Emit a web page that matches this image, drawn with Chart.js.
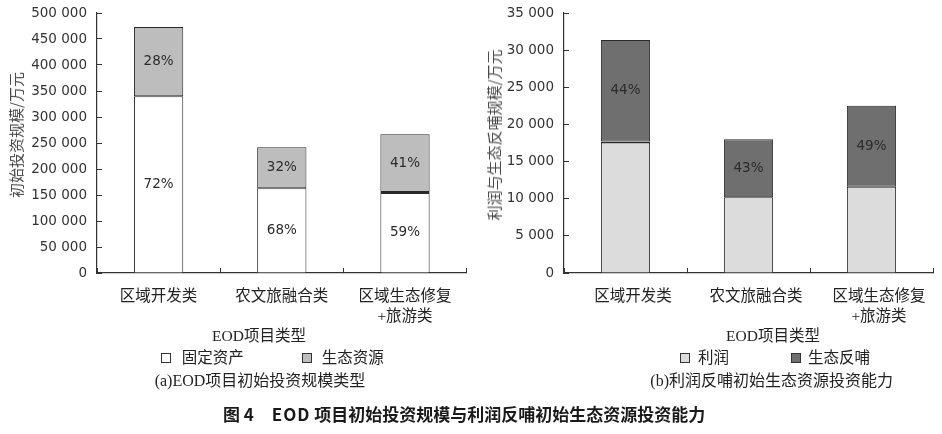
<!DOCTYPE html>
<html><head><meta charset="utf-8">
<script src="https://cdn.jsdelivr.net/npm/chart.js@4.4.1/dist/chart.umd.min.js"></script>
<style>
html,body{margin:0;padding:0;background:#fff;width:942px;height:434px;overflow:hidden;}
#wrap{position:relative;width:942px;height:434px;}
canvas{position:absolute;top:0;}
.t{position:absolute;white-space:nowrap;font-family:"Liberation Serif","Noto Sans CJK SC",serif;font-size:15.5px;color:#222;line-height:20px;}
.c{transform:translateX(-50%);}
.s{font-size:16px;}
.yt{position:absolute;white-space:nowrap;font-family:"Noto Sans CJK SC",sans-serif;font-size:15px;color:#4a4a4a;line-height:18px;transform:translate(-50%,-50%) rotate(-90deg);}
.box{position:absolute;box-sizing:border-box;width:10px;height:10px;border:1px solid #333;}
.cap{position:absolute;white-space:nowrap;font-family:"Noto Sans CJK SC",sans-serif;font-weight:bold;font-size:17px;color:#1a1a1a;line-height:20px;}
</style></head>
<body>
<div id="wrap">
  <canvas id="left" width="471" height="330" style="left:0px"></canvas>
  <canvas id="right" width="471" height="330" style="left:471px"></canvas>

  <div class="yt" style="left:15.5px;top:135px">初始投资规模/万元</div>
  <div class="yt" style="left:494px;top:135px">利润与生态反哺规模/万元</div>

  <div class="t c" style="left:259px;top:325.5px">EOD项目类型</div>
  <div class="box" style="left:161px;top:353px;background:#ffffff"></div>
  <div class="t" style="left:181.7px;top:348px">固定资产</div>
  <div class="box" style="left:302px;top:353px;background:#bdbdbd"></div>
  <div class="t" style="left:321.7px;top:348px">生态资源</div>
  <div class="t c s" style="left:260px;top:371px">(a)EOD项目初始投资规模类型</div>

  <div class="t c" style="left:773px;top:326px">EOD项目类型</div>
  <div class="box" style="left:680px;top:353px;background:#dcdcdc"></div>
  <div class="t" style="left:698px;top:348px">利润</div>
  <div class="box" style="left:790.7px;top:353px;background:#6f6f6f"></div>
  <div class="t" style="left:808px;top:348px">生态反哺</div>
  <div class="t c s" style="left:771.7px;top:371px">(b)利润反哺初始生态资源投资能力</div>

  <div class="cap" style="left:223px;top:404px">图 4</div>
  <div class="cap" style="left:271.7px;top:404px"><span style="letter-spacing:1px">EOD</span> 项目初始投资规模与利润反哺初始生态资源投资能力</div>
</div>
<script>
// ---- data ----
const categories = [['区域开发类'], ['农文旅融合类'], ['区域生态修复', '+旅游类']];
const fixedAssets = [340000, 163000, 156000];
const ecoResources = [133000, 79000, 111000];
const fixedPct = ['72%', '68%', '59%'];
const ecoPct = ['28%', '32%', '41%'];
const profit = [17700, 10200, 11600];
const ecoFeedback = [13650, 7800, 10900];
const feedbackPct = ['44%', '43%', '49%'];
const leftMax = 500000, leftStep = 50000;
const rightMax = 35000, rightStep = 5000;

function fmt(v) {
  return String(v).replace(/\B(?=(\d{3})+(?!\d))/g, ' ');
}

const pctPlugin = {
  id: 'pct',
  afterDatasetsDraw(chart) {
    const ctx = chart.ctx;
    ctx.save();
    ctx.font = '13.5px "DejaVu Sans"';
    ctx.fillStyle = '#2b2b2b';
    ctx.textAlign = 'center';
    ctx.textBaseline = 'middle';
    chart.data.datasets.forEach((ds, i) => {
      if (!ds.pctLabels) return;
      chart.getDatasetMeta(i).data.forEach((el, j) => {
        const lab = ds.pctLabels[j];
        if (!lab) return;
        ctx.fillText(lab, el.x, (el.y + el.base) / 2);
      });
    });
    ctx.restore();
  }
};

function makeChart(id, datasets, axisMax, step, yWidth, padRight, labelOffset) {
  return new Chart(document.getElementById(id), {
    type: 'bar',
    data: { labels: categories, datasets: datasets },
    options: {
      responsive: false, animation: false, devicePixelRatio: 1,
      layout: { padding: { top: 13, right: padRight, left: 0, bottom: 0 } },
      plugins: { legend: { display: false }, tooltip: { enabled: false } },
      scales: {
        x: {
          stacked: true, offset: true,
          grid: { offset: true, drawOnChartArea: false, drawTicks: true, tickLength: -5, color: '#333', lineWidth: 1 },
          border: { display: true, color: '#333', width: 1.2 },
          ticks: {
            padding: 19, labelOffset: labelOffset, color: '#222', maxRotation: 0, autoSkip: false,
            font: { family: '"Liberation Serif","Noto Sans CJK SC"', size: 15.5, lineHeight: 1.29 }
          },
          afterFit(s) { s.height = 330 - 273; }
        },
        y: {
          stacked: true, min: 0, max: axisMax,
          grid: { drawOnChartArea: false, drawTicks: true, tickLength: -5, color: '#333', lineWidth: 1 },
          border: { display: true, color: '#333', width: 1.2 },
          ticks: {
            stepSize: step, padding: 15, color: '#333',
            font: { family: '"DejaVu Sans"', size: 13.5 },
            callback: (v) => fmt(v)
          },
          afterFit(s) { s.width = yWidth; s.paddingTop = 0; s.paddingBottom = 0; }
        }
      }
    },
    plugins: [pctPlugin]
  });
}

const thick = { top: 2, left: 1, right: 1, bottom: 1 };

makeChart('left', [
  { label: '固定资产', data: fixedAssets, pctLabels: fixedPct,
    backgroundColor: '#ffffff', borderColor: '#2a2a2a', borderWidth: [1, 1, thick],
    barPercentage: 0.4, categoryPercentage: 1 },
  { label: '生态资源', data: ecoResources, pctLabels: ecoPct,
    backgroundColor: '#bdbdbd', borderColor: '#2a2a2a', borderWidth: 1, borderSkipped: false,
    barPercentage: 0.4, categoryPercentage: 1 }
], leftMax, leftStep, 97, 3, 0);

makeChart('right', [
  { label: '利润', data: profit,
    backgroundColor: '#dcdcdc', borderColor: '#2a2a2a', borderWidth: [thick, 1, 1],
    barPercentage: 0.4, categoryPercentage: 1 },
  { label: '生态反哺', data: ecoFeedback, pctLabels: feedbackPct,
    backgroundColor: '#6f6f6f', borderColor: '#2a2a2a', borderWidth: 1, borderSkipped: false,
    barPercentage: 0.4, categoryPercentage: 1 }
], rightMax, rightStep, 93, 9, 7.5);
</script>
</body></html>
